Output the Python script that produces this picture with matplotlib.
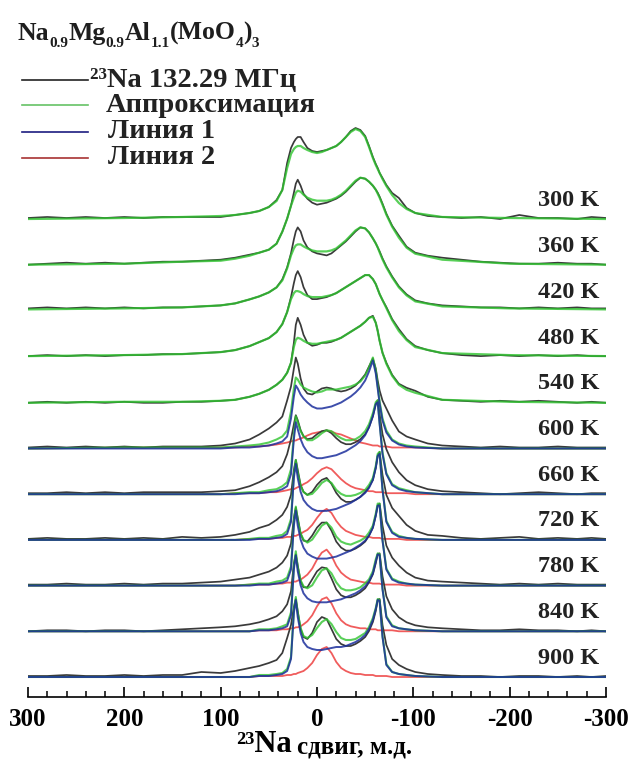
import matplotlib
matplotlib.use("Agg")
import matplotlib.pyplot as plt
from matplotlib.lines import Line2D
from matplotlib.ticker import FixedLocator, FixedFormatter, MultipleLocator
import numpy as np

plt.rcParams['font.family'] = ['Liberation Serif', 'DejaVu Serif']
plt.rcParams['font.weight'] = 'bold'

# chemical shift grid, ppm (dense near the two horns)
X_CORE = [100, 85, 70, 60, 50, 42, 36, 31, 27, 24, 22, 20, 17, 14, 10, 5, 0, -5, -10, -15,
          -20, -25, -30, -35, -40, -45, -50, -54, -58, -61, -63, -65, -68, -72, -78, -85, -93, -102]
X_EXP = [300, 280, 260, 240, 220, 200, 180, 160, 140, 120] + X_CORE + \
        [-115, -130, -150, -170, -190, -210, -230, -250, -270, -285, -300]
X_FIT = [300, 200, 140] + X_CORE + [-130, -200, -300]

TEMPS = [300, 360, 420, 480, 540, 600, 660, 720, 780, 840, 900]

# experimental 23Na spectra (height above baseline, px of the original figure)
exp_300 = [2, 3, 2, 3, 2, 3, 2, 3, 3, 3,
           3, 5, 7, 9, 13, 20, 30, 57, 72, 78, 81, 83, 83, 78, 72, 69, 68, 69, 70, 72,
           74, 78, 83, 89, 92, 90, 84, 74, 63, 56, 52, 47, 42, 35, 27, 22, 12, 7,
           4, 3, 2, 3, 1, 5, 2, 2, 1, 3, 2]
exp_360 = [1, 2, 3, 2, 3, 2, 3, 4, 4, 5,
           6, 8, 11, 13, 16, 22, 34, 47, 60, 73, 82, 86, 80, 72, 67, 63, 61, 62, 63, 65,
           67, 70, 74, 79, 84, 88, 87, 84, 80, 76, 73, 69, 62, 52, 40, 30, 19, 13,
           10, 8, 6, 4, 3, 2, 2, 3, 2, 2, 1]
exp_420 = [3, 4, 3, 4, 3, 4, 3, 4, 4, 5,
           6, 8, 12, 15, 19, 24, 32, 44, 58, 72, 80, 84, 80, 71, 64, 60, 58, 57, 56, 58,
           62, 66, 70, 75, 80, 84, 83, 79, 73, 68, 64, 60, 53, 45, 35, 25, 17, 11,
           8, 6, 5, 4, 4, 3, 4, 3, 4, 3, 3]
exp_480 = [1, 2, 1, 2, 1, 2, 2, 3, 3, 4,
           5, 7, 11, 15, 19, 25, 33, 45, 60, 74, 82, 86, 80, 70, 62, 58, 58, 59, 60, 62,
           64, 67, 70, 73, 76, 79, 82, 82, 78, 73, 68, 63, 57, 50, 38, 28, 18, 11,
           7, 4, 2, 1, 2, 1, 2, 1, 2, 1, 1]
exp_540 = [0, 1, 0, 1, 0, 1, 0, 0, 1, 1,
           2, 3, 6, 9, 13, 18, 23, 30, 40, 60, 78, 85, 78, 68, 60, 57, 58, 60, 60, 61,
           63, 65, 68, 71, 74, 77, 81, 85, 87, 80, 72, 62, 50, 40, 28, 19, 15, 12,
           6, 3, 2, 1, 2, 1, 2, 1, 0, 1, 0]
exp_600 = [1, 2, 1, 2, 1, 2, 1, 2, 2, 2,
           3, 5, 9, 14, 20, 26, 32, 48, 62, 80, 91, 85, 70, 60, 55, 54, 57, 60, 61, 60,
           58, 57, 58, 60, 63, 68, 74, 82, 90, 80, 68, 58, 48, 40, 28, 17, 12, 9,
           5, 3, 2, 1, 2, 1, 1, 2, 1, 1, 1]
exp_660 = [1, 1, 2, 1, 2, 1, 2, 2, 2, 2,
           3, 4, 8, 12, 17, 22, 28, 40, 55, 70, 79, 74, 64, 58, 55, 56, 60, 63, 64, 61,
           56, 52, 50, 50, 52, 55, 60, 67, 78, 90, 94, 80, 60, 45, 32, 22, 14, 9,
           5, 3, 2, 1, 0, 1, 2, 1, 0, 1, 1]
exp_720 = [1, 2, 1, 1, 2, 1, 2, 1, 3, 2,
           3, 5, 8, 12, 15, 20, 25, 33, 45, 70, 80, 70, 55, 48, 45, 48, 55, 60, 62, 56,
           47, 41, 38, 38, 40, 43, 48, 53, 60, 72, 84, 88, 65, 45, 32, 24, 15, 9,
           5, 4, 2, 1, 2, 3, 1, 2, 1, 2, 1]
exp_780 = [1, 1, 2, 1, 1, 2, 1, 2, 2, 3,
           4, 6, 8, 11, 14, 18, 23, 30, 42, 68, 78, 68, 52, 45, 44, 50, 58, 63, 63, 55,
           44, 38, 35, 35, 37, 40, 44, 50, 58, 70, 80, 82, 60, 40, 28, 20, 13, 8,
           5, 4, 3, 2, 1, 2, 1, 2, 1, 1, 1]
exp_840 = [0, 1, 1, 0, 1, 1, 0, 1, 2, 3,
           4, 5, 7, 9, 12, 15, 20, 27, 40, 68, 77, 66, 50, 44, 44, 52, 60, 64, 63, 53,
           42, 36, 34, 34, 36, 39, 43, 49, 57, 68, 77, 78, 55, 35, 22, 14, 9, 6,
           4, 3, 2, 1, 1, 2, 1, 1, 0, 1, 0]
exp_900 = [1, 1, 2, 1, 1, 2, 1, 2, 2, 5,
           4, 6, 9, 11, 14, 17, 24, 39, 52, 70, 78, 66, 48, 40, 38, 44, 55, 60, 58, 48,
           38, 33, 31, 31, 33, 36, 40, 46, 55, 66, 77, 78, 52, 32, 18, 12, 8, 5,
           3, 2, 1, 1, 0, 1, 1, 0, 1, 0, 1]

# approximation (green) for the low-temperature spectra
fit_300 = [1, 2, 3, 4, 5, 7, 9, 13, 19, 30, 52, 66, 71, 73, 74, 74, 72, 70, 68, 67, 68, 70, 72,
           74, 78, 83, 88, 91, 89, 83, 73, 62, 55, 51, 47, 41, 34, 25, 17, 11, 7, 3, 2, 1]
fit_360 = [1, 2, 4, 5, 7, 10, 13, 16, 22, 34, 47, 60, 68, 73, 75, 74, 71, 68, 66, 65, 65, 65, 66,
           68, 71, 75, 80, 85, 88, 87, 84, 80, 76, 72, 68, 61, 51, 39, 28, 18, 12, 6, 2, 1]
fit_420 = [2, 3, 4, 6, 8, 12, 15, 19, 24, 31, 43, 56, 63, 66, 67, 67, 65, 63, 61, 60, 60, 60, 61,
           63, 67, 71, 76, 81, 84, 83, 79, 73, 68, 64, 59, 52, 44, 34, 24, 16, 10, 5, 3, 2]
fit_480 = [1, 2, 3, 5, 7, 11, 15, 19, 25, 33, 45, 58, 64, 66, 66, 65, 63, 61, 60, 60, 60, 61, 62,
           64, 67, 70, 73, 76, 79, 82, 82, 78, 73, 68, 63, 57, 49, 37, 26, 17, 10, 4, 2, 1]
fit_540 = [0, 1, 1, 2, 3, 6, 9, 13, 18, 23, 30, 40, 56, 63, 65, 64, 62, 60, 59, 59, 60, 61, 62,
           63, 65, 68, 71, 74, 77, 81, 85, 86, 80, 72, 62, 50, 39, 27, 18, 13, 10, 3, 1, 0]

# line 1 (blue) and line 2 (red) of the decomposition, 600-900 K
line1_600 = [0, 0, 0, 0, 1, 1, 2, 3, 5, 7, 12, 30, 52, 63, 60, 54, 50, 46, 42, 40, 40, 41, 42,
             44, 46, 49, 52, 56, 61, 68, 77, 88, 75, 60, 45, 28, 16, 8, 4, 2, 1, 0, 0, 0]
line1_660 = [0, 0, 0, 0, 0, 1, 1, 2, 3, 5, 8, 20, 55, 72, 65, 55, 48, 42, 38, 36, 36, 37, 38,
             39, 41, 43, 46, 49, 53, 59, 67, 78, 90, 92, 70, 40, 20, 9, 5, 3, 2, 0, 0, 0]
line1_720 = [0, 0, 0, 0, 0, 0, 1, 1, 2, 3, 6, 18, 62, 76, 62, 48, 40, 35, 31, 29, 29, 29, 30,
             31, 33, 35, 37, 40, 43, 47, 52, 60, 72, 84, 86, 50, 18, 7, 3, 2, 1, 0, 0, 0]
line1_780 = [0, 0, 0, 0, 0, 0, 1, 1, 2, 3, 5, 16, 60, 75, 60, 46, 38, 32, 29, 27, 27, 27, 28,
             29, 31, 33, 35, 38, 41, 45, 50, 58, 70, 80, 80, 45, 16, 6, 3, 2, 1, 0, 0, 0]
line1_840 = [0, 0, 0, 0, 0, 0, 1, 1, 2, 3, 5, 16, 62, 76, 60, 46, 38, 33, 30, 29, 29, 29, 30,
             31, 32, 34, 36, 38, 41, 45, 50, 58, 70, 77, 76, 42, 14, 5, 3, 2, 1, 0, 0, 0]
line1_900 = [0, 0, 0, 0, 0, 0, 1, 1, 2, 3, 6, 18, 64, 77, 60, 44, 35, 30, 28, 27, 27, 28, 29,
             30, 30, 31, 33, 35, 38, 42, 48, 57, 68, 77, 76, 40, 12, 5, 3, 2, 1, 0, 0, 0]

line2_600 = [0, 1, 1, 1, 1, 2, 2, 3, 4, 5, 6, 7, 8, 8, 9, 10, 11, 13, 15, 16, 17, 18, 17,
             15, 14, 12, 10, 8, 6, 5, 4, 3, 3, 3, 2, 2, 2, 1, 1, 1, 1, 0, 0, 0]
line2_660 = [0, 0, 0, 0, 1, 1, 1, 2, 2, 3, 4, 5, 5, 6, 7, 8, 10, 12, 16, 21, 25, 27, 25,
             20, 15, 11, 8, 6, 5, 4, 3, 3, 2, 2, 2, 2, 1, 1, 1, 1, 0, 0, 0, 0]
line2_720 = [0, 0, 0, 0, 0, 1, 1, 1, 2, 2, 3, 3, 4, 4, 5, 6, 8, 10, 15, 22, 28, 31, 27,
             19, 13, 9, 7, 5, 4, 3, 3, 2, 2, 2, 2, 1, 1, 1, 1, 0, 0, 0, 0, 0]
line2_780 = [0, 0, 0, 0, 0, 1, 1, 1, 2, 2, 3, 3, 4, 4, 5, 6, 8, 11, 17, 26, 33, 36, 30,
             20, 13, 9, 6, 5, 4, 3, 3, 2, 2, 2, 2, 1, 1, 1, 1, 0, 0, 0, 0, 0]
line2_840 = [0, 0, 0, 0, 0, 0, 1, 1, 1, 2, 2, 3, 3, 4, 4, 5, 7, 10, 16, 25, 32, 34, 28,
             18, 11, 7, 5, 4, 3, 3, 2, 2, 2, 1, 1, 1, 1, 1, 0, 0, 0, 0, 0, 0]
line2_900 = [0, 0, 0, 0, 0, 0, 1, 1, 1, 1, 2, 2, 3, 3, 4, 5, 6, 9, 14, 22, 28, 30, 24,
             15, 9, 6, 4, 3, 3, 2, 2, 2, 1, 1, 1, 1, 1, 0, 0, 0, 0, 0, 0, 0]

EXP = [exp_300, exp_360, exp_420, exp_480, exp_540, exp_600,
       exp_660, exp_720, exp_780, exp_840, exp_900]
FIT_LOW = [fit_300, fit_360, fit_420, fit_480, fit_540]
LINE1 = [line1_600, line1_660, line1_720, line1_780, line1_840, line1_900]
LINE2 = [line2_600, line2_660, line2_720, line2_780, line2_840, line2_900]

# formula pieces: (text, is_subscript)
TITLE_PARTS = [('Na', False), ('0.9', True), ('Mg', False), ('0.9', True), ('Al', False),
               ('1.1', True), ('(MoO', False), ('4', True), (')', False), ('3', True)]

c_exp = '#3a3a3a'
c_fit = '#2fc42f'
c_l1 = '#1c2f9c'
c_l2 = '#f05c5c'

W, H = 631, 762
fig = plt.figure(figsize=(W / 100, H / 100), dpi=100)
ax = fig.add_axes([28 / W, 65 / H, 578 / W, 637 / H])
ax.set_xlim(300, -300)
ax.set_ylim(0, 637)

xe = np.array(X_EXP)
xf = np.array(X_FIT)
step = 45.7
for i, t in enumerate(TEMPS):
    base = 477 - step * i
    ax.plot(xe, base + np.array(EXP[i]), color=c_exp, lw=1.25, zorder=2)
    if i < len(FIT_LOW):
        ax.plot(xf, base + np.array(FIT_LOW[i]), color=c_fit, lw=1.6, alpha=0.8, zorder=3)
    else:
        j = i - len(FIT_LOW)
        l1 = np.array(LINE1[j])
        l2 = np.array(LINE2[j])
        ax.plot(xf, base + l2, color=c_l2, lw=1.3, zorder=1)
        ax.plot(xf, base + l1 + l2, color=c_fit, lw=1.5, alpha=0.8, zorder=3)
        ax.plot(xf, base + l1, color=c_l1, lw=1.4, alpha=0.85, zorder=4)
    ax.text(-293, base + 19, f'{t} K', ha='right', va='center',
            fontsize=17.5, fontweight='bold', color='#222222')

for s in ['left', 'right', 'top']:
    ax.spines[s].set_visible(False)
ax.spines['bottom'].set_linewidth(1.2)
ax.set_yticks([])
ax.xaxis.set_major_locator(FixedLocator([300, 200, 100, 0, -100, -200, -300]))
ax.xaxis.set_major_formatter(FixedFormatter(['300', '200', '100', '0', '-100', '-200', '-300']))
ax.xaxis.set_minor_locator(MultipleLocator(20))
ax.tick_params(axis='x', which='major', direction='in', length=7, width=1.2,
               labelsize=18, pad=8)
ax.tick_params(axis='x', which='minor', direction='in', length=4, width=1.1)
for lab in ax.get_xticklabels():
    lab.set_fontweight('bold')

# x label
fig.text(292 / W, 1 - 744 / H, '²³Na', fontsize=22, fontweight='bold', ha='right', va='center')
fig.text(297 / W, 1 - 747 / H, 'сдвиг, м.д.', fontsize=18, fontweight='bold', ha='left', va='center')

# title, piece by piece so the subscripts can be small and low
renderer = fig.canvas.get_renderer()
x_px = 18
for txt, sub in TITLE_PARTS:
    size = 11 if sub else 18.5
    y_px = 47 if sub else 40
    t_obj = fig.text(x_px / W, 1 - y_px / H, txt, fontsize=size, fontweight='bold',
                     ha='left', va='baseline', color='#1e1e1e')
    x_px += t_obj.get_window_extent(renderer).width

# legend drawn by hand
legend_rows = [('²³Na 132.29 МГц', '#222222', 90, 80),
               ('Аппроксимация', '#66c266', 106, 105),
               ('Линия 1', '#1c1c80', 108, 132),
               ('Линия 2', '#a83232', 108, 158)]
for label, col, tx, ty in legend_rows:
    fig.add_artist(Line2D([22 / W, 88 / W], [1 - ty / H, 1 - ty / H],
                          transform=fig.transFigure, color=col, lw=1.2))
    fig.text(tx / W, 1 - ty / H, label, fontsize=20.5, fontweight='bold',
             ha='left', va='center', color='#222222')

fig.savefig('out.png', dpi=100)
